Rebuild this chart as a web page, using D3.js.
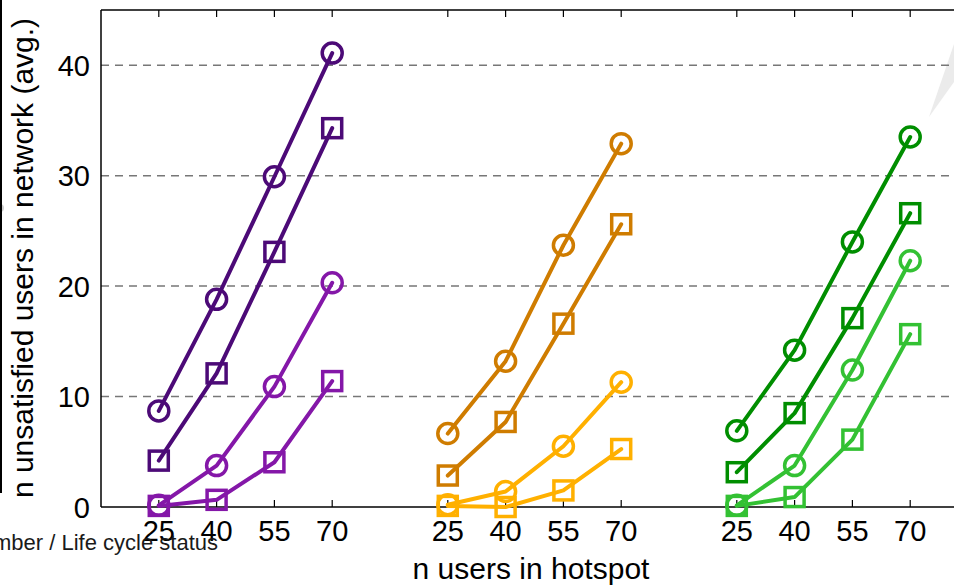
<!DOCTYPE html>
<html><head><meta charset="utf-8">
<script src="https://cdn.jsdelivr.net/npm/d3@7"></script>
<style>html,body{margin:0;padding:0;background:#fff;overflow:hidden}</style>
</head><body>
<svg id="c" width="954" height="587"></svg>
<script>
// ---- data ----
const xLabels = [25, 40, 55, 70];
const groups = ["purple", "orange", "green"];
const yTicks = [0, 10, 20, 30, 40];
const gridTicks = [10, 20, 30, 40];

// group 1 (purple)
const purpleDarkCircle  = [8.7, 18.8, 29.9, 41.1];
const purpleDarkSquare  = [4.2, 12.1, 23.1, 34.3];
const purpleLightCircle = [0.15, 3.75, 10.9, 20.3];
const purpleLightSquare = [0.1, 0.65, 4.05, 11.4];
// group 2 (orange)
const orangeDarkCircle  = [6.65, 13.2, 23.7, 32.9];
const orangeDarkSquare  = [2.85, 7.7, 16.6, 25.6];
const orangeLightCircle = [0.2, 1.4, 5.5, 11.3];
const orangeLightSquare = [0.1, 0.0, 1.5, 5.25];
// group 3 (green)
const greenDarkCircle   = [6.9, 14.2, 24.0, 33.5];
const greenDarkSquare   = [3.15, 8.5, 17.1, 26.6];
const greenLightCircle  = [0.15, 3.75, 12.4, 22.3];
const greenLightSquare  = [0.1, 0.9, 6.1, 15.65];

const colors = {
  purpleDark: "#4c0a77", purpleLight: "#8417a8",
  orangeDark: "#cf7c00", orangeLight: "#ffb000",
  greenDark: "#008e00", greenLight: "#33c133"
};

const series = [
  {g:0, values: purpleDarkCircle,  color: colors.purpleDark,  shape: "circle"},
  {g:0, values: purpleDarkSquare,  color: colors.purpleDark,  shape: "square"},
  {g:0, values: purpleLightCircle, color: colors.purpleLight, shape: "circle"},
  {g:0, values: purpleLightSquare, color: colors.purpleLight, shape: "square"},
  {g:1, values: orangeDarkCircle,  color: colors.orangeDark,  shape: "circle"},
  {g:1, values: orangeDarkSquare,  color: colors.orangeDark,  shape: "square"},
  {g:1, values: orangeLightCircle, color: colors.orangeLight, shape: "circle"},
  {g:1, values: orangeLightSquare, color: colors.orangeLight, shape: "square"},
  {g:2, values: greenDarkCircle,   color: colors.greenDark,   shape: "circle"},
  {g:2, values: greenDarkSquare,   color: colors.greenDark,   shape: "square"},
  {g:2, values: greenLightCircle,  color: colors.greenLight,  shape: "circle"},
  {g:2, values: greenLightSquare,  color: colors.greenLight,  shape: "square"}
];

// ---- layout ----
(function draw() {
const svg = d3.select("#c");
const pLeft = 101, pRight = 968, pTop = 10, pBottom = 507;
const x = d3.scaleLinear().domain([-1, 14]).range([pLeft, pRight]);
const y = d3.scaleLinear().domain([0, 45]).range([pBottom, pTop]);
const pos = (g, i) => x(g * 5 + i);
const font = "'Liberation Sans', Arial, Helvetica, sans-serif";

// background artifacts
svg.append("polygon").attr("points", "929,117 954,44 954,82").attr("fill", "#ebebeb");
svg.append("circle").attr("cx", 0).attr("cy", 208).attr("r", 4).attr("fill", "#d0d0d0");
svg.append("line").attr("x1", 1).attr("x2", 1).attr("y1", 0).attr("y2", 493)
  .attr("stroke", "#000").attr("stroke-width", 2);

// grid
svg.append("g").selectAll("line").data(gridTicks).join("line")
  .attr("x1", pLeft).attr("x2", 954)
  .attr("y1", d => y(d)).attr("y2", d => y(d))
  .attr("stroke", "#777").attr("stroke-width", 1.5).attr("stroke-dasharray", "8,6");

// frame
svg.append("line").attr("x1", pLeft).attr("x2", 954).attr("y1", pTop).attr("y2", pTop)
  .attr("stroke", "#000").attr("stroke-width", 1.5);
svg.append("line").attr("x1", pLeft).attr("x2", 954).attr("y1", pBottom).attr("y2", pBottom)
  .attr("stroke", "#000").attr("stroke-width", 1.5);
svg.append("line").attr("x1", pLeft).attr("x2", pLeft).attr("y1", pTop).attr("y2", pBottom)
  .attr("stroke", "#000").attr("stroke-width", 1.5);

// ticks
const tickData = [];
groups.forEach((gname, g) => xLabels.forEach((lab, i) => tickData.push({g, i, lab})));
svg.append("g").selectAll("line").data(tickData).join("line")
  .attr("x1", d => pos(d.g, d.i)).attr("x2", d => pos(d.g, d.i))
  .attr("y1", pTop).attr("y2", pTop + 7).attr("stroke", "#000").attr("stroke-width", 1.2);
svg.append("g").selectAll("line").data(tickData).join("line")
  .attr("x1", d => pos(d.g, d.i)).attr("x2", d => pos(d.g, d.i))
  .attr("y1", pBottom).attr("y2", pBottom - 7).attr("stroke", "#000").attr("stroke-width", 1.2);

// tick labels
svg.append("g").selectAll("text").data(tickData).join("text")
  .attr("x", d => pos(d.g, d.i)).attr("y", 541)
  .attr("text-anchor", "middle").attr("font-family", font).attr("font-size", 29)
  .attr("fill", "#000").text(d => d.lab);
svg.append("g").selectAll("text").data(yTicks).join("text")
  .attr("x", 90).attr("y", d => y(d) + 10.5)
  .attr("text-anchor", "end").attr("font-family", font).attr("font-size", 29)
  .attr("fill", "#000").text(d => d);

// axis titles
svg.append("text").attr("transform", "translate(33,258) rotate(-90)")
  .attr("text-anchor", "middle").attr("font-family", font).attr("font-size", 30)
  .attr("fill", "#000").text("n unsatisfied users in network (avg.)");
svg.append("text").attr("x", 531).attr("y", 579)
  .attr("text-anchor", "middle").attr("font-family", font).attr("font-size", 30)
  .attr("fill", "#000").text("n users in hotspot");
svg.append("text").attr("x", 218).attr("y", 550)
  .attr("text-anchor", "end").attr("font-family", font).attr("font-size", 22)
  .attr("fill", "#1a1a1a").text("Number / Life cycle status");

// series
const line = d3.line().x(d => d.x).y(d => d.y);
series.forEach(s => {
  const pts = s.values.map((v, i) => ({x: pos(s.g, i), y: y(v)}));
  const gS = svg.append("g");
  gS.append("path").attr("d", line(pts)).attr("fill", "none")
    .attr("stroke", s.color).attr("stroke-width", 4)
    .attr("stroke-linecap", "round").attr("stroke-linejoin", "round");
  if (s.shape === "circle") {
    gS.selectAll("circle").data(pts).join("circle")
      .attr("cx", d => d.x).attr("cy", d => d.y).attr("r", 10)
      .attr("fill", "none").attr("stroke", s.color).attr("stroke-width", 3.5);
  } else {
    gS.selectAll("rect").data(pts).join("rect")
      .attr("x", d => d.x - 9.5).attr("y", d => d.y - 9.5)
      .attr("width", 19).attr("height", 19)
      .attr("fill", "none").attr("stroke", s.color).attr("stroke-width", 3.5);
  }
});
})();
</script>
</body></html>
